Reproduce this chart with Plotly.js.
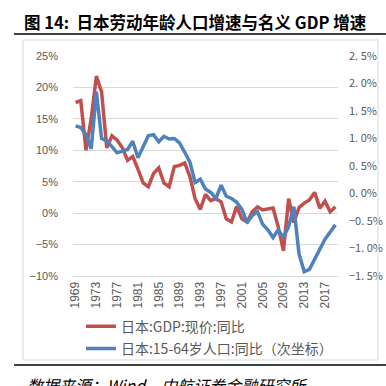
<!DOCTYPE html>
<html><head><meta charset="utf-8">
<script src="https://cdn.plot.ly/plotly-3.0.1.min.js"></script>
<style>html,body{margin:0;padding:0;background:#fff;}#chart{width:386px;height:386px;}</style>
</head><body><div id="chart"></div>
<script>
const years = [1969,1970,1971,1972,1973,1974,1975,1976,1977,1978,1979,1980,1981,1982,1983,1984,1985,1986,1987,1988,1989,1990,1991,1992,1993,1994,1995,1996,1997,1998,1999,2000,2001,2002,2003,2004,2005,2006,2007,2008,2009,2010,2011,2012,2013,2014,2015,2016,2017,2018,2019];
const gdpGrowth = [17.6,17.9,10.0,15.0,21.8,19.3,10.4,12.3,11.6,10.4,8.4,9.0,7.0,4.8,4.2,6.3,7.2,4.8,4.2,7.4,7.6,8.0,5.8,2.3,0.6,3.0,2.0,2.3,1.8,-0.9,-1.4,1.1,-0.9,-1.4,0.2,1.0,0.5,0.7,0.8,-2.2,-6.0,2.3,-1.5,0.9,1.6,2.1,3.3,0.8,1.9,0.2,1.0];
const popGrowth = [1.23,1.20,1.07,0.81,1.85,1.00,0.96,0.86,0.74,0.77,0.80,0.95,0.65,0.85,1.05,1.07,0.94,1.04,0.99,1.00,0.92,0.75,0.57,0.20,0.26,0.08,0.02,-0.09,0.15,-0.05,-0.09,-0.16,-0.29,-0.53,-0.40,-0.33,-0.56,-0.66,-0.80,-0.66,-0.80,-0.60,-0.24,-1.10,-1.42,-1.38,-1.20,-1.03,-0.83,-0.70,-0.57];
const xTickVals = [1969,1973,1977,1981,1985,1989,1993,1997,2001,2005,2009,2013,2017];
const leftTickVals = [25,20,15,10,5,0,-5,-10];
const leftTickText = ["25%","20%","15%","10%","5%","0%","\u22125%","\u221210%"];
const rightTickVals = [2.5,2.0,1.5,1.0,0.5,0.0,-0.5,-1.0,-1.5];
const rightTickText = ["2. 5%","2. 0%","1. 5%","1. 0%","0. 5%","0. 0%","\u22120. 5%","\u22121. 0%","\u22121. 5%"];
const seriesNames = ["日本:GDP:现价:同比","日本:15-64岁人口:同比（次坐标）"];

const gray = "#595959";
const grid = "#D9D9D9";
const traces = [
  {x: years, y: gdpGrowth, type: "scatter", mode: "lines", name: seriesNames[0], yaxis: "y",
   line: {color: "#C0504D", width: 3.5}, legendgroup: "a"},
  {x: years, y: popGrowth, type: "scatter", mode: "lines", name: seriesNames[1], yaxis: "y2",
   line: {color: "#4F81BD", width: 3.5}, legendgroup: "b"}
];
const layout = {
  width: 386, height: 386,
  margin: {l: 73, r: 48, t: 56, b: 110},
  paper_bgcolor: "#fff", plot_bgcolor: "#fff",
  title: {text: "图 14:  日本劳动年龄人口增速与名义 GDP 增速", x: 24/386, xanchor: "left", xref: "container",
          y: 1 - 23/386, yanchor: "middle", yref: "container",
          font: {family: "Noto Sans CJK SC", size: 16.5, color: "#000", weight: "bold"}},
  xaxis: {type: "linear", range: [1968.5, 2019.5], tickvals: xTickVals, tickangle: -90,
          showgrid: false, zeroline: false, showline: true, linecolor: grid, linewidth: 1, ticks: "",
          tickfont: {family: "Liberation Sans, Arial", size: 12, color: gray}},
  yaxis: {range: [-10, 25], tickvals: leftTickVals, ticktext: leftTickText, showgrid: true, gridcolor: grid,
          gridwidth: 1, zeroline: false, showline: false, ticks: "", ticklabelstandoff: 14,
          tickfont: {family: "Liberation Sans, Arial", size: 11, color: gray}},
  yaxis2: {range: [-1.5, 2.5], tickvals: rightTickVals, ticktext: rightTickText, overlaying: "y", side: "right",
           showgrid: false, zeroline: false, showline: false, ticks: "", ticklabelstandoff: 10,
           tickfont: {family: "Noto Sans CJK SC", size: 11, color: gray}},
  showlegend: true,
  legend: {orientation: "v", x: 0.03, xanchor: "left", y: -0.158, yanchor: "top", yref: "paper",
           font: {family: "Noto Sans CJK SC", size: 14, color: gray}, tracegroupgap: 1,
           bgcolor: "rgba(0,0,0,0)"},
  shapes: [
    {type: "line", xref: "paper", yref: "paper", x0: -0.2226, x1: 1.19, y0: 1.1, y1: 1.1,
     line: {color: "#000", width: 1.5}},
    {type: "rect", xref: "paper", yref: "paper", x0: -0.1887, x1: 1.1509, y0: -0.3818, y1: 1.0727,
     line: {color: grid, width: 1}},
    {type: "line", xref: "paper", yref: "paper", x0: -0.2226, x1: 1.19, y0: -0.405, y1: -0.405,
     line: {color: "#000", width: 1.5}}
  ],
  annotations: [
    {text: "<i>数据来源：Wind，中航证券金融研究所</i>", xref: "paper", yref: "paper", x: -0.181, xanchor: "left",
     y: -0.495, yanchor: "middle", showarrow: false,
     font: {family: "Noto Sans CJK SC", size: 16, color: "#000"}}
  ]
};
Plotly.newPlot("chart", traces, layout, {displayModeBar: false, staticPlot: true});
</script></body></html>
